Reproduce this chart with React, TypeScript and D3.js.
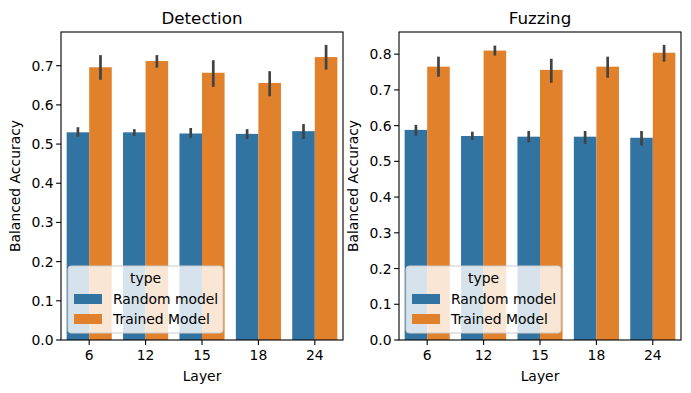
import * as d3 from 'd3'

// layers on the x axis
const layers = ['6', '12', '15', '18', '24']
const types = ['Random model', 'Trained Model']

// Detection panel: bar heights and 95% CI bounds
const detRandom = [0.530, 0.530, 0.527, 0.526, 0.533]
const detRandomLo = [0.519, 0.521, 0.516, 0.513, 0.513]
const detRandomHi = [0.543, 0.538, 0.541, 0.538, 0.551]
const detTrained = [0.696, 0.712, 0.682, 0.656, 0.722]
const detTrainedLo = [0.664, 0.695, 0.646, 0.622, 0.690]
const detTrainedHi = [0.727, 0.727, 0.714, 0.686, 0.753]

// Fuzzing panel
const fuzRandom = [0.588, 0.571, 0.569, 0.569, 0.566]
const fuzRandomLo = [0.572, 0.560, 0.553, 0.549, 0.544]
const fuzRandomHi = [0.602, 0.583, 0.585, 0.585, 0.585]
const fuzTrained = [0.765, 0.810, 0.756, 0.765, 0.804]
const fuzTrainedLo = [0.737, 0.796, 0.720, 0.734, 0.779]
const fuzTrainedHi = [0.793, 0.824, 0.787, 0.793, 0.826]

const detTicks = [0, 0.1, 0.2, 0.3, 0.4, 0.5, 0.6, 0.7]
const fuzTicks = [0, 0.1, 0.2, 0.3, 0.4, 0.5, 0.6, 0.7, 0.8]

const COLORS = ['#3274a1', '#e1812c']
const FONT = 'DejaVu Sans, sans-serif'
const W = 691
const H = 393
const TOP = 32
const BOTTOM = 340

type Panel = {
  title: string
  left: number
  right: number
  ymax: number
  ticks: number[]
  series: { mean: number[]; lo: number[]; hi: number[] }[]
}

const panels: Panel[] = [
  {
    title: 'Detection',
    left: 61,
    right: 343,
    ymax: 0.786,
    ticks: detTicks,
    series: [
      { mean: detRandom, lo: detRandomLo, hi: detRandomHi },
      { mean: detTrained, lo: detTrainedLo, hi: detTrainedHi },
    ],
  },
  {
    title: 'Fuzzing',
    left: 399,
    right: 681,
    ymax: 0.862,
    ticks: fuzTicks,
    series: [
      { mean: fuzRandom, lo: fuzRandomLo, hi: fuzRandomHi },
      { mean: fuzTrained, lo: fuzTrainedLo, hi: fuzTrainedHi },
    ],
  },
]

function BarPanel({ p }: { p: Panel }) {
  const x = d3.scaleBand().domain(layers).range([p.left, p.right]).paddingInner(0).paddingOuter(0)
  const inner = d3.scaleBand().domain(types).range([x.bandwidth() * 0.1, x.bandwidth() * 0.9])
  const y = d3.scaleLinear().domain([0, p.ymax]).range([BOTTOM, TOP])
  const cy = (TOP + BOTTOM) / 2
  const cx = (p.left + p.right) / 2
  const fmt = d3.format('.1f')

  const legX = p.left + 7
  const legY = 266

  return (
    <g>
      {/* bars */}
      {p.series.map((s, si) =>
        layers.map((l, i) => (
          <rect
            key={`b${si}-${i}`}
            x={x(l)! + inner(types[si])!}
            y={y(s.mean[i])}
            width={inner.bandwidth()}
            height={BOTTOM - y(s.mean[i])}
            fill={COLORS[si]}
          />
        ))
      )}
      {/* error bars */}
      {p.series.map((s, si) =>
        layers.map((l, i) => {
          const xc = x(l)! + inner(types[si])! + inner.bandwidth() / 2
          return (
            <line
              key={`e${si}-${i}`}
              x1={xc}
              x2={xc}
              y1={y(s.lo[i])}
              y2={y(s.hi[i])}
              stroke="#424242"
              strokeWidth={2.7}
            />
          )
        })
      )}

      {/* spines */}
      <rect
        x={p.left}
        y={TOP}
        width={p.right - p.left}
        height={BOTTOM - TOP}
        fill="none"
        stroke="#000"
        strokeWidth={1.1}
      />

      {/* y ticks */}
      {p.ticks.map(t => (
        <g key={`yt${t}`}>
          <line x1={p.left - 4.9} x2={p.left} y1={y(t)} y2={y(t)} stroke="#000" strokeWidth={1.1} />
          <text
            x={p.left - 7.5}
            y={y(t)}
            dy="0.36em"
            textAnchor="end"
            fontSize={13.9}
            fontFamily={FONT}
            fill="#000"
          >
            {fmt(t)}
          </text>
        </g>
      ))}

      {/* x ticks */}
      {layers.map(l => {
        const xc = x(l)! + x.bandwidth() / 2
        return (
          <g key={`xt${l}`}>
            <line x1={xc} x2={xc} y1={BOTTOM} y2={BOTTOM + 4.9} stroke="#000" strokeWidth={1.1} />
            <text x={xc} y={360} textAnchor="middle" fontSize={13.9} fontFamily={FONT} fill="#000">
              {l}
            </text>
          </g>
        )
      })}

      <text x={cx} y={381} textAnchor="middle" fontSize={13.9} fontFamily={FONT} fill="#000">
        Layer
      </text>
      <text
        transform={`translate(${p.left - 41},${cy}) rotate(-90)`}
        textAnchor="middle"
        fontSize={13.9}
        fontFamily={FONT}
        fill="#000"
      >
        Balanced Accuracy
      </text>
      <text x={cx} y={24} textAnchor="middle" fontSize={16.7} fontFamily={FONT} fill="#000">
        {p.title}
      </text>

      {/* legend */}
      <rect
        x={legX}
        y={legY}
        width={155}
        height={67}
        rx={3}
        fill="#fff"
        fillOpacity={0.8}
        stroke="#cccccc"
        strokeWidth={1}
      />
      <text x={legX + 77.5} y={legY + 17} textAnchor="middle" fontSize={13.9} fontFamily={FONT} fill="#000">
        type
      </text>
      {types.map((t, i) => (
        <g key={`lg${t}`}>
          <rect x={legX + 6} y={legY + 28 + i * 20} width={28} height={10} fill={COLORS[i]} />
          <text x={legX + 45} y={legY + 38 + i * 20} fontSize={13.9} fontFamily={FONT} fill="#000">
            {t}
          </text>
        </g>
      ))}
    </g>
  )
}

export default function App() {
  return (
    <svg width={W} height={H} style={{ display: 'block', position: 'absolute', left: 0, top: 0 }}>
      <rect width={W} height={H} fill="#fff" />
      {panels.map(p => (
        <BarPanel key={p.title} p={p} />
      ))}
    </svg>
  )
}
